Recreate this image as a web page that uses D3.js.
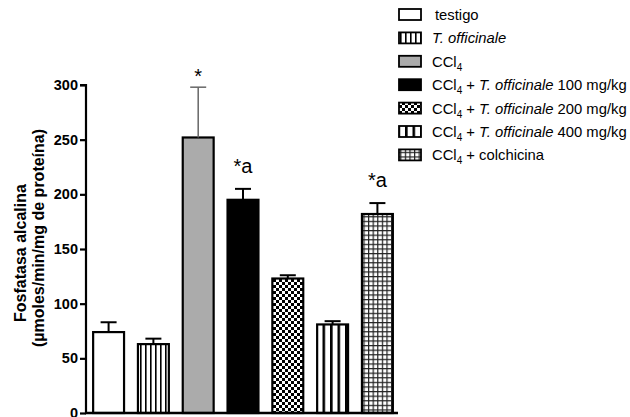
<!DOCTYPE html>
<html>
<head>
<meta charset="utf-8">
<script src="https://cdn.jsdelivr.net/npm/d3@7"></script>
<style>
  body { margin: 0; background: #fff; }
  svg { font-family: Arial, "Liberation Sans", sans-serif; }
</style>
</head>
<body>
<div id="chart"></div>
<script>
// Data
var groups = ['testigo', 'T. officinale', 'CCl4', 'CCl4 + T100', 'CCl4 + T200', 'CCl4 + T400', 'CCl4 + colchicina'];
var means = [74, 63, 252, 195, 123, 81, 182];
var errors = [9, 5, 46, 10, 3, 3, 10];
var marks = ['', '', '*', '*a', '', '', '*a'];
var fills = ['white', 'url(#vlines)', '#ababab', 'black', 'url(#checker)', 'url(#vbars)', 'url(#grid)'];
var yTicks = [0, 50, 100, 150, 200, 250, 300];

var width = 630, height = 417;
var svg = d3.select('#chart').append('svg')
    .attr('width', width)
    .attr('height', height);

// Patterns
var defs = svg.append('defs');
var p1 = defs.append('pattern').attr('id', 'vlines').attr('patternUnits', 'userSpaceOnUse')
    .attr('width', 5).attr('height', 5);
p1.append('rect').attr('width', 5).attr('height', 5).attr('fill', 'white');
p1.append('rect').attr('x', 0).attr('width', 1.6).attr('height', 5).attr('fill', 'black');

var p2 = defs.append('pattern').attr('id', 'checker').attr('patternUnits', 'userSpaceOnUse')
    .attr('width', 6).attr('height', 6);
p2.append('rect').attr('width', 6).attr('height', 6).attr('fill', 'white');
p2.append('rect').attr('width', 3).attr('height', 3).attr('fill', 'black');
p2.append('rect').attr('x', 3).attr('y', 3).attr('width', 3).attr('height', 3).attr('fill', 'black');

var p3 = defs.append('pattern').attr('id', 'vbars').attr('patternUnits', 'userSpaceOnUse')
    .attr('width', 7.5).attr('height', 5);
p3.append('rect').attr('width', 7.5).attr('height', 5).attr('fill', 'white');
p3.append('rect').attr('x', 0).attr('width', 2.6).attr('height', 5).attr('fill', 'black');

var p4 = defs.append('pattern').attr('id', 'grid').attr('patternUnits', 'userSpaceOnUse')
    .attr('width', 4.6).attr('height', 4.6);
p4.append('rect').attr('width', 4.6).attr('height', 4.6).attr('fill', 'white');
p4.append('rect').attr('width', 1.2).attr('height', 4.6).attr('fill', '#222');
p4.append('rect').attr('width', 4.6).attr('height', 1.2).attr('fill', '#222');

// Scales
var x0 = 86, x1 = 398, yBase = 413, yTop = 85;
var xScale = d3.scaleBand().domain(groups).range([90, 396]).paddingInner(0.31).paddingOuter(0.07);
var yScale = d3.scaleLinear().domain([0, 300]).range([yBase, yTop]);

// Bars
var bars = svg.append('g');
bars.selectAll('rect').data(groups).enter().append('rect')
    .attr('x', (d) => xScale(d))
    .attr('y', (d, i) => yScale(means[i]))
    .attr('width', xScale.bandwidth())
    .attr('height', (d, i) => yBase - yScale(means[i]))
    .attr('fill', (d, i) => fills[i])
    .attr('stroke', 'black')
    .attr('stroke-width', 2.2);

// Error bars + significance marks
var err = svg.append('g');
groups.forEach(function (g, i) {
    var cx = xScale(g) + xScale.bandwidth() / 2;
    var col = i === 2 ? '#666' : 'black';
    var top = yScale(means[i] + errors[i]);
    err.append('line').attr('x1', cx).attr('x2', cx)
        .attr('y1', yScale(means[i])).attr('y2', top)
        .attr('stroke', col).attr('stroke-width', i === 2 ? 1.5 : 2);
    err.append('line').attr('x1', cx - 8).attr('x2', cx + 8)
        .attr('y1', top).attr('y2', top)
        .attr('stroke', col).attr('stroke-width', i === 2 ? 1.5 : 2);
    if (marks[i]) {
        svg.append('text')
            .attr('x', cx)
            .attr('y', top - (marks[i] === '*' ? 4 : 16))
            .attr('text-anchor', 'middle')
            .attr('font-size', 20)
            .text(marks[i]);
    }
});

// Axes
var yAxis = d3.axisLeft(yScale).tickValues(yTicks).tickSize(6).tickPadding(2);
var gY = svg.append('g').attr('transform', `translate(${x0},0)`).call(yAxis);
gY.select('.domain').attr('stroke-width', 2.2).attr('d', `M-6,${yTop}H0V${yBase}`);
gY.selectAll('.tick line').attr('stroke-width', 2.2);
gY.selectAll('.tick text').attr('font-size', 14.5).attr('font-weight', 'bold')
    .attr('font-family', 'Arial, "Liberation Sans", sans-serif').attr('fill', 'black');

svg.append('line').attr('x1', x0 - 1).attr('x2', x1).attr('y1', yBase).attr('y2', yBase)
    .attr('stroke', 'black').attr('stroke-width', 2.4);

// Y label (two lines, each centred on its own)
svg.append('text').attr('transform', 'translate(26,253) rotate(-90)')
    .attr('text-anchor', 'middle').attr('font-size', 16).attr('font-weight', 'bold')
    .text('Fosfatasa alcalina');
svg.append('text').attr('transform', 'translate(44,238) rotate(-90)')
    .attr('text-anchor', 'middle').attr('font-size', 16).attr('font-weight', 'bold')
    .text('(\u00b5moles/min/mg de prote\u00edna)');

// Legend
var legendRows = [
    [['testigo', 'n']],
    [['T. officinale', 'i']],
    [['CCl', 'n'], ['4', 's']],
    [['CCl', 'n'], ['4', 's'], [' + ', 'n'], ['T. officinale', 'i'], [' 100 mg/kg', 'n']],
    [['CCl', 'n'], ['4', 's'], [' + ', 'n'], ['T. officinale', 'i'], [' 200 mg/kg', 'n']],
    [['CCl', 'n'], ['4', 's'], [' + ', 'n'], ['T. officinale', 'i'], [' 400 mg/kg', 'n']],
    [['CCl', 'n'], ['4', 's'], [' + colchicina', 'n']]
];
var legend = svg.append('g');
legendRows.forEach(function (row, i) {
    var y = 15 + i * 23.4;
    legend.append('rect').attr('x', 399).attr('y', y - 6).attr('width', 22).attr('height', 11)
        .attr('fill', fills[i]).attr('stroke', 'black').attr('stroke-width', 1.8);
    var t = legend.append('text').attr('x', i === 0 ? 435 : 432).attr('y', y + 5).attr('font-size', 14.8);
    row.forEach(function (seg, j) {
        var ts = t.append('tspan').text(seg[0]);
        if (seg[1] === 'i') ts.attr('font-style', 'italic');
        if (seg[1] === 's') ts.attr('font-size', 10).attr('dy', 4);
        // back to baseline after subscript
        if (j > 0 && row[j - 1][1] === 's') ts.attr('dy', -4);
    });
});
</script>
</body>
</html>
